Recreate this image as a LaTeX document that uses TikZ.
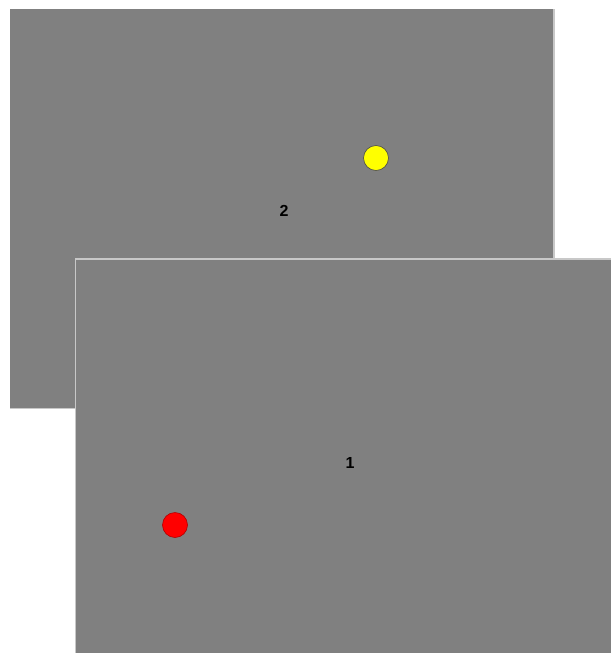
\documentclass[tikz,border=0pt]{standalone}
\usepackage{fontspec}
\setmainfont{Liberation Sans}
\definecolor{panel}{HTML}{808080}
\definecolor{rim}{HTML}{C8C8C8}
\definecolor{dotyellow}{HTML}{FFFF00}
\definecolor{dotred}{HTML}{FF0000}
\begin{document}
\begin{tikzpicture}[x=1pt,y=-1pt,
  screen/.style={fill=panel,draw=none},
  dot/.style={circle,draw=black!70,line width=0.6pt,minimum size=25pt,inner sep=0pt},
  numlabel/.style={font=\bfseries\fontsize{16}{18}\selectfont,text=black,inner sep=0pt}]
\useasboundingbox (0,0) rectangle (611,653);
\fill[white] (0,0) rectangle (611,653);
% back screen 2
\fill[screen] (10,9) rectangle (555,409);
\draw[rim,line width=1.5pt] (554,9) -- (554,408.5) -- (10,408.5);
\node[dot,fill=dotyellow] (y) at (376,158) {};
\node[numlabel] (l2) at (284,211) {2};
% front screen 1
\fill[screen] (75,258) rectangle (611,653);
\draw[rim,line width=1.5pt] (75.5,653) -- (75.5,259) -- (611,259);
\node[dot,fill=dotred,draw=red!70!black] (r) at (175,525) {};
\node[numlabel] (l1) at (350,463) {1};
\end{tikzpicture}
\end{document}
